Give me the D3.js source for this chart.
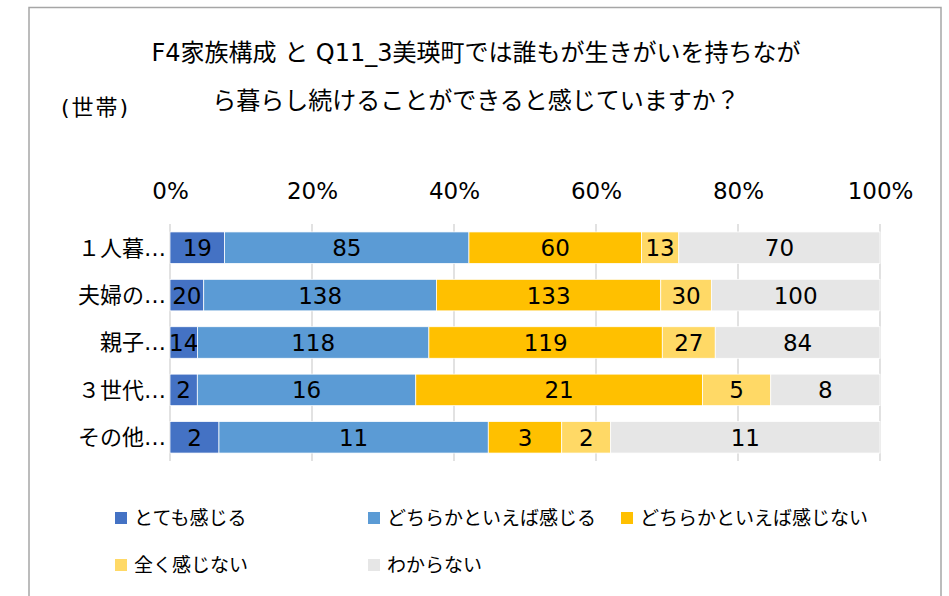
<!DOCTYPE html>
<html>
<head>
<meta charset="utf-8">
<script src="https://cdn.jsdelivr.net/npm/d3@7"></script>
<style>
  body { margin: 0; background: #fff; }
  svg text { font-family: "DejaVu Sans", "Noto Sans CJK JP", sans-serif; fill: #000; }
</style>
</head>
<body>
<div id="chart"></div>
<script>
// Data
var categories = ["１人暮…", "夫婦の…", "親子…", "３世代…", "その他…"];
var seriesNames = ["とても感じる", "どちらかといえば感じる", "どちらかといえば感じない", "全く感じない", "わからない"];
var veryMuch = [19, 20, 14, 2, 2];
var somewhat = [85, 138, 118, 16, 11];
var notMuch = [60, 133, 119, 21, 3];
var notAtAll = [13, 30, 27, 5, 2];
var unknown = [70, 100, 84, 8, 11];
var tickValues = [0, 0.2, 0.4, 0.6, 0.8, 1];
var colors = ["#4472C4", "#5B9BD5", "#FFC000", "#FFD966", "#E6E6E6"];

var seriesValues = [veryMuch, somewhat, notMuch, notAtAll, unknown];

// one row per category for the stack layout
var rows = categories.map(function (c, i) {
    var r = { cat: c };
    seriesNames.forEach(function (s, j) { r[s] = seriesValues[j][i]; });
    return r;
});

var W = 949, H = 596;
var plot = { left: 170, right: 880, top: 224, bottom: 461 };
var fontFam = '"DejaVu Sans", "Noto Sans CJK JP", sans-serif';

var svg = d3.select('#chart').append('svg')
    .attr('width', W)
    .attr('height', H);

// Chart frame
svg.append('rect')
    .attr('x', 29).attr('y', 7.5)
    .attr('width', 912).attr('height', 620)
    .attr('fill', '#fff')
    .attr('stroke', '#a6a6a6')
    .attr('stroke-width', 1.5);

// Title
var title = svg.append('text')
    .attr('text-anchor', 'middle')
    .style('font-size', '24px');
title.append('tspan').attr('x', 476).attr('y', 61)
    .text("F4家族構成 と Q11_3美瑛町では誰もが生きがいを持ちなが");
title.append('tspan').attr('x', 476).attr('y', 109)
    .text("ら暮らし続けることができると感じていますか？");

// Unit label
svg.append('text')
    .attr('x', 61).attr('y', 115)
    .style('font-size', '22px')
    .style('letter-spacing', '2px')
    .text("(世帯)");

// Scales
var x = d3.scaleLinear().domain([0, 1]).range([plot.left, plot.right]);
var y = d3.scaleBand().domain(categories)
    .range([plot.top, plot.bottom])
    .paddingInner(0.335)
    .paddingOuter(0.1675);

// Gridlines
svg.append('g')
    .selectAll('line')
    .data(tickValues)
    .enter().append('line')
    .attr('x1', function (d) { return x(d); })
    .attr('x2', function (d) { return x(d); })
    .attr('y1', plot.top)
    .attr('y2', plot.bottom)
    .attr('stroke', '#d9d9d9')
    .attr('stroke-width', 1.5);

// Top axis labels
var xAxis = svg.append('g')
    .attr('transform', 'translate(0,199)')
    .call(d3.axisTop(x).tickValues(tickValues).tickSize(0).tickPadding(0)
        .tickFormat(d3.format('.0%')));
xAxis.select('.domain').remove();
xAxis.selectAll('text')
    .attr('fill', '#000')
    .style('font-size', '23px')
    .style('font-family', fontFam);

// Category labels
var yAxis = svg.append('g')
    .attr('transform', 'translate(' + (plot.left - 4) + ',0)')
    .call(d3.axisLeft(y).tickSize(0).tickPadding(0));
yAxis.select('.domain').remove();
yAxis.selectAll('text')
    .attr('fill', '#000')
    .attr('dy', '0.36em')
    .style('font-size', '22px')
    .style('font-family', fontFam);

// Stack (100%)
var stack = d3.stack().keys(seriesNames).offset(d3.stackOffsetExpand);
var layers = stack(rows);

var layer = svg.append('g').selectAll('g.layer')
    .data(layers)
    .enter().append('g')
    .attr('class', 'layer')
    .attr('fill', function (d, i) { return colors[i]; });

layer.selectAll('rect')
    .data(function (d) { return d; })
    .enter().append('rect')
    .attr('x', function (d) { return x(d[0]); })
    .attr('y', function (d) { return y(d.data.cat); })
    .attr('width', function (d) { return x(d[1]) - x(d[0]); })
    .attr('height', y.bandwidth())
    .attr('stroke', '#fff')
    .attr('stroke-width', 0.75);

// Data labels
layer.selectAll('text')
    .data(function (d) { return d.map(function (p) { return { p: p, key: d.key }; }); })
    .enter().append('text')
    .attr('x', function (d) { return (x(d.p[0]) + x(d.p[1])) / 2; })
    .attr('y', function (d) { return y(d.p.data.cat) + y.bandwidth() / 2; })
    .attr('dy', '0.37em')
    .attr('text-anchor', 'middle')
    .style('font-size', '23px')
    .style('fill', '#000')
    .text(function (d) { return d.p.data[d.key]; });

// Legend
var legendPos = [
    { x: 115, y: 518 }, { x: 368, y: 518 }, { x: 621, y: 518 },
    { x: 115, y: 565 }, { x: 368, y: 565 }
];
var legend = svg.append('g').selectAll('g')
    .data(seriesNames)
    .enter().append('g')
    .attr('transform', function (d, i) {
        return 'translate(' + legendPos[i].x + ',' + legendPos[i].y + ')';
    });
legend.append('rect')
    .attr('x', 0).attr('y', -6)
    .attr('width', 12).attr('height', 12)
    .attr('fill', function (d, i) { return colors[i]; });
legend.append('text')
    .attr('x', 19)
    .attr('dy', '0.36em')
    .style('font-size', '19px')
    .text(function (d) { return d; });
</script>
</body>
</html>
